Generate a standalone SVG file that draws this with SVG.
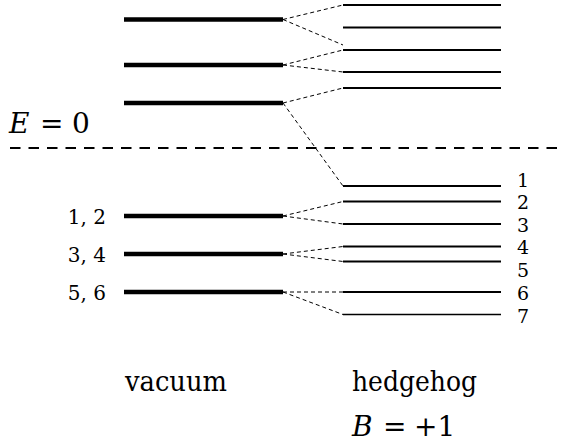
<svg xmlns="http://www.w3.org/2000/svg" width="563" height="446" viewBox="0 0 563 446">
<style>
.vac{stroke:#000;stroke-width:4.5;fill:none}
.lev{stroke:#000;stroke-width:2;fill:none}
.con{stroke:#000;stroke-width:1;stroke-dasharray:4 3;fill:none}
.zero{stroke:#000;stroke-width:2;stroke-dasharray:10.5 8;fill:none}
text{font-family:"DejaVu Serif",serif}
.big{font-size:28px}
.num{font-size:20px}
.rnum{font-size:19px}
.it{font-style:italic}
</style>
<rect width="563" height="446" fill="#fff"/>
<line class="zero" x1="10" y1="148" x2="563" y2="148"/>
<text class="big" y="133"><tspan class="it" x="9">E</tspan><tspan x="40">=</tspan><tspan x="72">0</tspan></text>
<g id="vacuum-levels">
<g id="vac-a"><line class="vac" x1="124" y1="19.5" x2="283" y2="19.5"/></g>
<g id="vac-b"><line class="vac" x1="124" y1="65" x2="283" y2="65"/></g>
<g id="vac-c"><line class="vac" x1="124" y1="103" x2="283" y2="103"/></g>
<g id="vac-12"><line class="vac" x1="124" y1="216" x2="283" y2="216"/><text class="num" x="106" y="224" text-anchor="end">1, 2</text></g>
<g id="vac-34"><line class="vac" x1="124" y1="254" x2="283" y2="254"/><text class="num" x="106" y="262" text-anchor="end">3, 4</text></g>
<g id="vac-56"><line class="vac" x1="124" y1="292" x2="283" y2="292"/><text class="num" x="106" y="300" text-anchor="end">5, 6</text></g>
</g>
<g id="hedgehog-levels">
<g id="h-a"><line class="lev" x1="343" y1="5" x2="501" y2="5"/></g>
<g id="h-b"><line class="lev" x1="343" y1="27.5" x2="501" y2="27.5"/></g>
<g id="h-c"><line class="lev" x1="343" y1="50" x2="501" y2="50"/></g>
<g id="h-d"><line class="lev" x1="343" y1="72" x2="501" y2="72"/></g>
<g id="h-e"><line class="lev" x1="343" y1="88" x2="501" y2="88"/></g>
<g id="h-1"><line class="lev" x1="343" y1="186" x2="501" y2="186"/><text class="rnum" x="517" y="187">1</text></g>
<g id="h-2"><line class="lev" x1="343" y1="201.5" x2="501" y2="201.5"/><text class="rnum" x="517" y="209">2</text></g>
<g id="h-3"><line class="lev" x1="343" y1="224" x2="501" y2="224"/><text class="rnum" x="517" y="232">3</text></g>
<g id="h-4"><line class="lev" x1="343" y1="246.5" x2="501" y2="246.5"/><text class="rnum" x="517" y="254">4</text></g>
<g id="h-5"><line class="lev" x1="343" y1="261.5" x2="501" y2="261.5"/><text class="rnum" x="517" y="277">5</text></g>
<g id="h-6"><line class="lev" x1="343" y1="292" x2="501" y2="292"/><text class="rnum" x="517" y="300">6</text></g>
<g id="h-7"><line class="lev" style="stroke-width:1.4" x1="343" y1="314.5" x2="501" y2="314.5"/><text class="rnum" x="517" y="323">7</text></g>
</g>
<g id="connectors">
<line class="con" x1="283" y1="19.5" x2="343" y2="5"/>
<line class="con" x1="283" y1="19.5" x2="343" y2="45"/>
<line class="con" x1="283" y1="65" x2="343" y2="50"/>
<line class="con" x1="283" y1="65" x2="343" y2="72"/>
<line class="con" x1="283" y1="103" x2="343" y2="88"/>
<line class="con" x1="283" y1="103" x2="343" y2="186"/>
<line class="con" x1="283" y1="216" x2="343" y2="201.5"/>
<line class="con" x1="283" y1="216" x2="343" y2="224"/>
<line class="con" x1="283" y1="254" x2="343" y2="246.5"/>
<line class="con" x1="283" y1="254" x2="343" y2="261.5"/>
<line class="con" x1="283" y1="292" x2="343" y2="292"/>
<line class="con" x1="283" y1="292" x2="343" y2="314.5"/>
</g>
<text class="big" x="125" y="391" textLength="102" lengthAdjust="spacingAndGlyphs">vacuum</text>
<text class="big" x="352" y="391" textLength="125" lengthAdjust="spacingAndGlyphs">hedgehog</text>
<text class="big" y="436"><tspan class="it" x="352">B</tspan><tspan x="383">=</tspan><tspan x="414">+1</tspan></text>
</svg>
